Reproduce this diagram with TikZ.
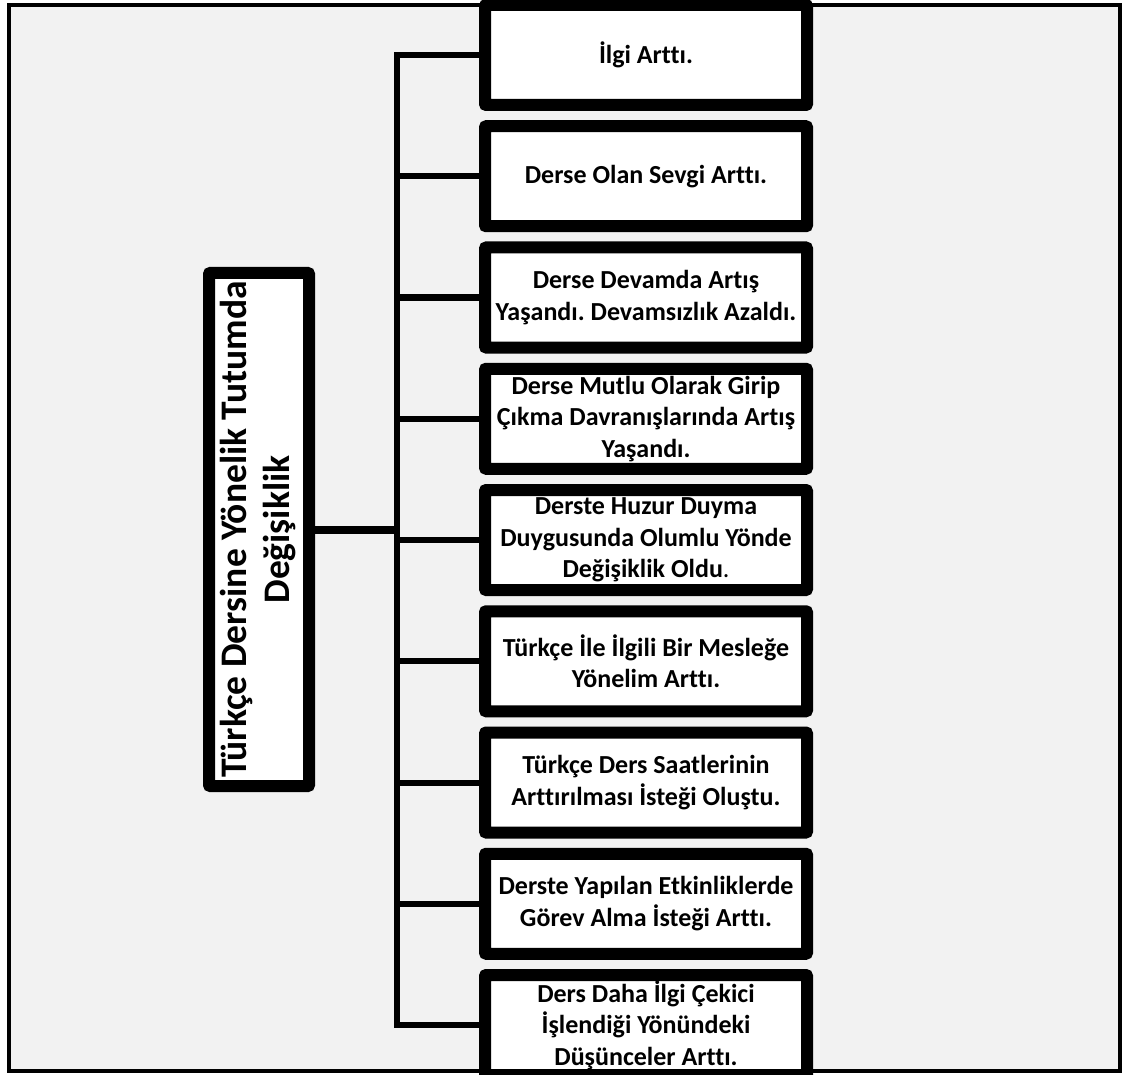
\documentclass[tikz,border=0pt]{standalone}
\usepackage{fontspec}
\usepackage{graphicx}
\setmainfont{Carlito}[Ligatures={NoCommon}]
\usetikzlibrary{shadows}
\definecolor{panel}{HTML}{F2F2F2}
\frenchspacing
\begin{document}
\begin{tikzpicture}[x=1pt,y=-1pt,
  item/.style={draw=black, line width=8pt, fill=white, rounded corners=3pt,
    minimum width=318pt, minimum height=96pt, inner sep=0pt, align=center,
    font=\bfseries\fontsize{26}{31.5}\selectfont,
    drop shadow={shadow xshift=1pt, shadow yshift=-3pt, opacity=0.25, fill=black}},
  rootbox/.style={draw=black, line width=8pt, fill=white, rounded corners=3pt,
    minimum width=96pt, minimum height=509pt, inner sep=0pt,
    font=\bfseries\fontsize{37.5}{43}\selectfont,
    drop shadow={shadow xshift=1pt, shadow yshift=-3pt, opacity=0.25, fill=black}},
  conn/.style={line width=6pt, line join=miter},
  hub/.style={line width=8pt}]
\useasboundingbox (0,0) rectangle (1124,1075);
\fill[white] (0,0) rectangle (1124,1075);
% outer panel
\draw[line width=4pt, fill=panel] (8.5,5.5) rectangle (1120,1071);

% trunk position
\coordinate (ttop) at (397,55);

% result boxes
\node[item] (b1) at (646,55) {İlgi Arttı.};
\node[item] (b2) at (646,176.25) {Derse Olan Sevgi Arttı.};
\node[item] (b3) at (646,297.5) {Derse Devamda Artış\\Yaşandı. Devamsızlık Azaldı.};
\node[item] (b4) at (646,418.75) {Derse Mutlu Olarak Girip\\Çıkma Davranışlarında Artış\\Yaşandı.};
\node[item] (b5) at (646,540) {Derste Huzur Duyma\\Duygusunda Olumlu Yönde\\Değişiklik Oldu\textmd{.}};
\node[item] (b6) at (646,661.25) {Türkçe İle İlgili Bir Mesleğe\\Yönelim Arttı.};
\node[item] (b7) at (646,782.5) {Türkçe Ders Saatlerinin\\Arttırılması İsteği Oluştu.};
\node[item] (b8) at (646,903.75) {Derste Yapılan Etkinliklerde\\Görev Alma İsteği Arttı.};
\node[item] (b9) at (646,1025) {Ders Daha İlgi Çekici\\İşlendiği Yönündeki\\Düşünceler Arttı.};

% main topic
\node[rootbox] (root) at (259,529.5)
  {\rotatebox{90}{\begin{tabular}{@{}c@{}}Türkçe Dersine Yönelik Tutumda\\Değişiklik\end{tabular}}};

% connectors
\draw[conn] (b1.west) -- (ttop) |- (b9.west);
\foreach \i in {2,...,8}
  \draw[conn] (b\i.west) -- (b\i.west -| ttop);
\draw[hub] (root.east) -- (root.east -| ttop);

% box borders drawn again over the connector ends
\foreach \i in {1,...,9}
  \draw[line width=8pt, rounded corners=3pt] (b\i.south west) rectangle (b\i.north east);
\draw[line width=8pt, rounded corners=3pt] (root.south west) rectangle (root.north east);
\end{tikzpicture}
\end{document}
